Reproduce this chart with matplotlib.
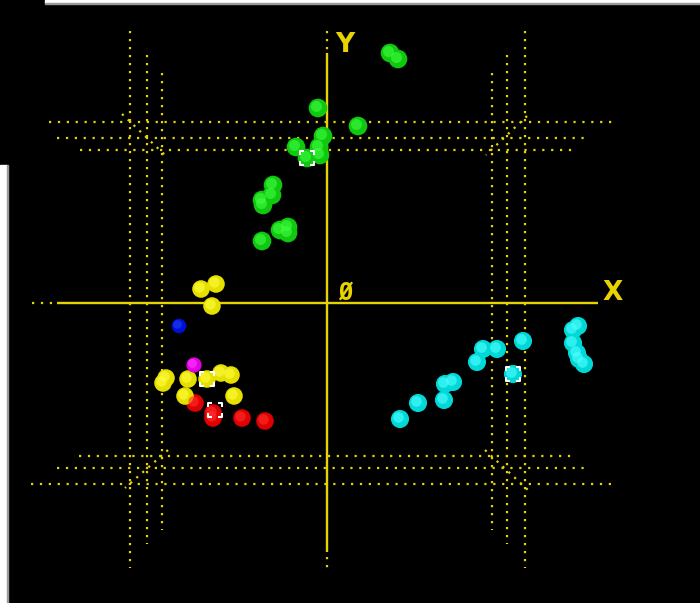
import matplotlib
matplotlib.use("Agg")
import matplotlib.pyplot as plt
from matplotlib.path import Path
from matplotlib.patches import Rectangle

# ---- data (screen coordinates of the projected 3D scatter) ----
green_x = [390, 398, 318, 358, 323, 296, 319, 307, 320, 273, 272, 262, 263, 288, 280, 288, 262]
green_y = [53, 59, 108, 126, 136, 147, 147, 158, 155, 185, 195, 200, 205, 227, 230, 233, 241]

yellow_x = [201, 216, 212, 166, 163, 188, 207, 221, 231, 185, 234]
yellow_y = [289, 284, 306, 378, 383, 379, 379, 373, 375, 396, 396]

red_x = [195, 213, 213, 242, 265]
red_y = [403, 413, 418, 418, 421]

blue_x = [179]
blue_y = [326]

magenta_x = [194]
magenta_y = [365]

cyan_x = [400, 418, 444, 445, 453, 477, 483, 497, 523, 513, 573, 578, 573, 577, 579, 584]
cyan_y = [419, 403, 400, 384, 382, 362, 349, 349, 341, 374, 330, 326, 343, 353, 359, 364]

centroid_x = [307, 207, 215, 513]
centroid_y = [158, 379, 410, 374]

# grid box (dotted) : vertical lines x, y_top, y_bottom
vgrid_x = [129.5, 147, 162, 492, 507, 524.5]
vgrid_top = [31, 55, 73, 73, 55, 31]
vgrid_bot = [568, 544, 530, 530, 544, 568]
# horizontal lines y, x_left, x_right
hgrid_y = [122, 138, 150, 456, 468, 484]
hgrid_l = [49, 57, 80, 79, 57, 31]
hgrid_r = [614, 587, 576, 575, 588, 613]
# corner diagonals
diag = [((122, 114), (166, 156)), ((527, 116), (486, 155)),
        ((168, 450), (125, 488)), ((485, 450), (528, 490))]

YEL = "#e6d400"

fig = plt.figure(figsize=(7.0, 6.03), dpi=100, facecolor="black")
ax = fig.add_axes([0, 0, 1, 1])
ax.set_facecolor("black")
ax.set_xlim(0, 700)
ax.set_ylim(603, 0)
ax.axis("off")

dot_h = (0, (1, 3.0))
dot_v = (0, (1, 2.6))
LW = 1.6
for x, t, b in zip(vgrid_x, vgrid_top, vgrid_bot):
    ax.plot([x, x], [t, b], color=YEL, lw=LW, linestyle=dot_v, dash_capstyle="butt")
for y, l, r in zip(hgrid_y, hgrid_l, hgrid_r):
    ax.plot([l, r], [y, y], color=YEL, lw=LW, linestyle=dot_h, dash_capstyle="butt")
for (p0, p1) in diag:
    ax.plot([p0[0], p1[0]], [p0[1], p1[1]], color=YEL, lw=LW, linestyle=dot_v, dash_capstyle="butt")

# axes
ax.plot([327, 327], [53, 552], color=YEL, lw=1.7, solid_capstyle="butt")
ax.plot([327, 327], [31, 51], color=YEL, lw=LW, linestyle=dot_v, dash_capstyle="butt")
ax.plot([327, 327], [557, 570], color=YEL, lw=LW, linestyle=dot_v, dash_capstyle="butt")
ax.plot([57, 598], [303, 303], color=YEL, lw=1.7, solid_capstyle="butt")
ax.plot([32, 54], [303, 303], color=YEL, lw=LW, linestyle=dot_h, dash_capstyle="butt")

ax.text(345, 45, "Y", color=YEL, fontsize=19, fontweight="bold", ha="center", va="center", family="DejaVu Sans")
ax.text(613, 293, "X", color=YEL, fontsize=19, fontweight="bold", ha="center", va="center", family="DejaVu Sans")
ax.text(345, 293, "Ø", color=YEL, fontsize=17, fontweight="bold", ha="center", va="center", family="DejaVu Sans Mono")

def spheres(xs, ys, col, hi, size):
    ax.scatter(xs, ys, s=size, color=col, edgecolors="none", zorder=3)
    ax.scatter([x - 1.5 for x in xs], [y - 1.5 for y in ys], s=size * 0.35, color=hi,
               edgecolors="none", zorder=4, alpha=0.6)

spheres(green_x, green_y, "#10c810", "#40ff40", 180)
spheres(cyan_x, cyan_y, "#00d8d8", "#50ffff", 170)
spheres(red_x, red_y, "#e00000", "#ff3030", 160)
spheres(yellow_x, yellow_y, "#e6e000", "#ffff40", 160)
spheres(blue_x, blue_y, "#0010d0", "#2040ff", 110)
spheres(magenta_x, magenta_y, "#e000e0", "#ff40ff", 120)

# centroid bracket markers
verts = [(-1, -0.4), (-1, -1), (-0.4, -1), (0.4, -1), (1, -1), (1, -0.4),
         (1, 0.4), (1, 1), (0.4, 1), (-0.4, 1), (-1, 1), (-1, 0.4)]
codes = [Path.MOVETO, Path.LINETO, Path.LINETO] * 4
bracket = Path(verts, codes)
ax.scatter(centroid_x, centroid_y, s=95, marker=bracket, facecolors="none",
           edgecolors="white", linewidths=1.5, zorder=5)

# screenshot frame remnants
ax.add_patch(Rectangle((45, 0), 655, 3.2, color="white", zorder=10))
ax.add_patch(Rectangle((45, 3.2), 655, 1.0, color="#999999", zorder=10))
ax.add_patch(Rectangle((0, 165), 6.5, 438, color="white", zorder=10))
ax.add_patch(Rectangle((6.5, 165), 1.0, 438, color="#999999", zorder=10))

fig.savefig("out.png", dpi=100, facecolor="black")
